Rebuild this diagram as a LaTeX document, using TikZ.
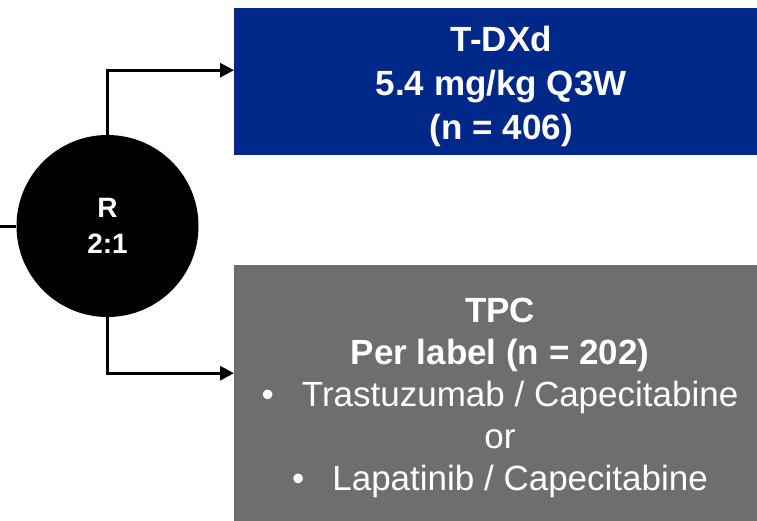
\documentclass[tikz,border=0pt]{standalone}
\usepackage{fontspec}
\setmainfont{Liberation Sans}
\usetikzlibrary{arrows.meta,positioning}
\definecolor{armblue}{RGB}{0,40,137}
\definecolor{armgray}{RGB}{110,110,110}
\tikzset{
  armbox/.style={rectangle, inner sep=0pt, minimum width=534pt, anchor=north west},
  armtxt/.style={inner sep=0pt, align=center, text=white},
  rnd/.style={circle, fill=black, text=white, inner sep=0pt, minimum size=182pt,
              align=center, font=\bfseries\fontsize{28}{36}\selectfont},
  link/.style={line width=3pt},
  arr/.style={-{Triangle[length=14pt,width=14pt]}, line width=3pt}
}
\begin{document}
\begin{tikzpicture}[x=1pt,y=-1pt]
  \useasboundingbox (0,0) rectangle (757,520);
  \clip (0,0) rectangle (757,520);

  % randomisation
  \node[rnd] (rand) at (107.5,226) {R\\2:1};
  \coordinate (entry) at (0,226);

  % arms
  \node[armbox, fill=armblue, minimum height=147pt] (tdxd) at (234,8) {};
  \node[armtxt, font=\bfseries\fontsize{35}{44}\selectfont] (tdxdtxt)
    at ([yshift=-4.5pt]tdxd.center) {T-DXd\\5.4 mg/kg Q3W\\(n = 406)};

  \node[armbox, fill=armgray, minimum height=270pt] (tpc) at (234,265) {};
  \node[armtxt, font=\fontsize{35}{42}\selectfont] (tpctxt) at (500,398)
    {\textbf{TPC}\\
     \textbf{Per label (n = 202)}\\
     \textbullet\hspace{28pt}Trastuzumab / Capecitabine\\
     or\\
     \textbullet\hspace{28pt}Lapatinib / Capecitabine};

  % connectors
  \draw[link] (entry) -- (rand.west);
  \draw[arr] (rand.north) |- ([yshift=11.5pt]tdxd.west);
  \draw[arr] (rand.south) |- ([yshift=27pt]tpc.west);
\end{tikzpicture}
\end{document}
